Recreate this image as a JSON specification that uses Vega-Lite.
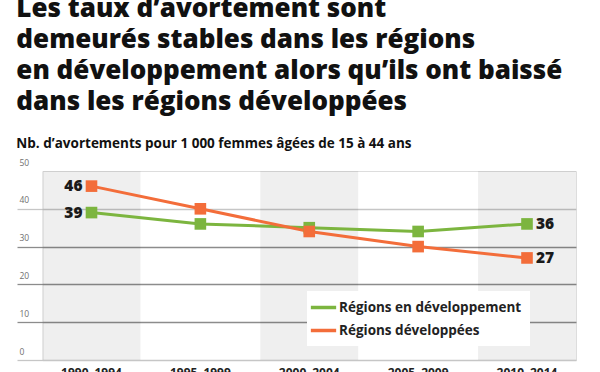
{
  "$schema": "https://vega.github.io/schema/vega-lite/v6.json",
  "autosize": "none",
  "width": 533.5,
  "height": 189,
  "padding": {"left": 42.5, "top": 171, "right": 24, "bottom": 12},
  "background": "white",
  "title": {
    "text": ["Les taux d’avortement sont", "demeurés stables dans les régions", "en développement alors qu’ils ont baissé", "dans les régions développées"],
    "subtitle": "Nb. d’avortements pour 1 000 femmes âgées de 15 à 44 ans",
    "anchor": "start",
    "frame": "bounds",
    "orient": "top",
    "font": "Open Sans",
    "fontSize": 26,
    "fontWeight": 800,
    "lineHeight": 31,
    "color": "#111111",
    "subtitleFont": "Open Sans",
    "subtitleFontSize": 13.5,
    "subtitleFontWeight": 700,
    "subtitleColor": "#111111",
    "subtitlePadding": 22,
    "offset": 8
  },
  "datasets": {
    "rates": [
      {"period": "1990–1994", "series": "Régions en développement", "value": 39},
      {"period": "1995–1999", "series": "Régions en développement", "value": 36},
      {"period": "2000–2004", "series": "Régions en développement", "value": 35},
      {"period": "2005–2009", "series": "Régions en développement", "value": 34},
      {"period": "2010–2014", "series": "Régions en développement", "value": 36},
      {"period": "1990–1994", "series": "Régions développées", "value": 46},
      {"period": "1995–1999", "series": "Régions développées", "value": 40},
      {"period": "2000–2004", "series": "Régions développées", "value": 34},
      {"period": "2005–2009", "series": "Régions développées", "value": 30},
      {"period": "2010–2014", "series": "Régions développées", "value": 27}
    ],
    "bands": [
      {"period": "1990–1994"},
      {"period": "2000–2004"},
      {"period": "2010–2014"}
    ]
  },
  "encoding": {
    "x": {
      "field": "period",
      "type": "nominal",
      "sort": null,
      "scale": {
        "domain": ["1990–1994", "1995–1999", "2000–2004", "2005–2009", "2010–2014"],
        "paddingInner": 0.1,
        "paddingOuter": 0
      },
      "axis": {
        "title": null,
        "domain": false,
        "ticks": false,
        "labelAngle": 0,
        "labelFont": "Open Sans",
        "labelFontSize": 12,
        "labelFontWeight": 700,
        "labelColor": "#222222",
        "labelPadding": 7,
        "labelBaseline": "top"
      }
    }
  },
  "layer": [
    {
      "data": {"name": "bands"},
      "mark": {"type": "rect", "color": "#000000", "opacity": 0.062},
      "encoding": {
        "y": {
          "datum": 50,
          "type": "quantitative",
          "scale": {"domain": [0, 50], "nice": false},
          "axis": {
            "title": null,
            "values": [0, 10, 20, 30, 40, 50],
            "domain": false,
            "grid": true,
            "tickSize": 25.5,
            "gridColor": {"condition": {"test": "datum.value >= 10 && datum.value <= 30", "value": "#8c8c8c"}, "value": "#c6c6c6"},
            "tickColor": {"condition": {"test": "datum.value >= 10 && datum.value <= 30", "value": "#8c8c8c"}, "value": "#c6c6c6"},
            "gridOpacity": {"condition": {"test": "datum.value == 50", "value": 0}, "value": 1},
            "tickOpacity": {"condition": {"test": "datum.value == 50", "value": 0}, "value": 1},
            "gridWidth": 1.3,
            "tickWidth": 1.3,
            "labelAlign": "left",
            "labelBaseline": "bottom",
            "labelPadding": -2,
            "labelOffset": -4,
            "labelFont": "Open Sans",
            "labelFontSize": 8.5,
            "labelColor": "#707070",
            "labelFlush": false,
            "labelOverlap": false,
            "labelBound": false
          }
        },
        "y2": {"datum": 0}
      }
    },
    {
      "data": {"name": "rates"},
      "mark": {"type": "line", "strokeWidth": 3},
      "encoding": {
        "y": {
          "field": "value",
          "type": "quantitative",
          "axis": {
            "title": null,
            "values": [0, 10, 20, 30, 40, 50],
            "domain": false,
            "grid": true,
            "tickSize": 25.5,
            "gridColor": {"condition": {"test": "datum.value >= 10 && datum.value <= 30", "value": "#8c8c8c"}, "value": "#c6c6c6"},
            "tickColor": {"condition": {"test": "datum.value >= 10 && datum.value <= 30", "value": "#8c8c8c"}, "value": "#c6c6c6"},
            "gridOpacity": {"condition": {"test": "datum.value == 50", "value": 0}, "value": 1},
            "tickOpacity": {"condition": {"test": "datum.value == 50", "value": 0}, "value": 1},
            "gridWidth": 1.3,
            "tickWidth": 1.3,
            "labelAlign": "left",
            "labelBaseline": "bottom",
            "labelPadding": -2,
            "labelOffset": -4,
            "labelFont": "Open Sans",
            "labelFontSize": 8.5,
            "labelColor": "#707070",
            "labelFlush": false,
            "labelOverlap": false,
            "labelBound": false
          }
        },
        "color": {
          "field": "series",
          "type": "nominal",
          "scale": {"domain": ["Régions en développement", "Régions développées"], "range": ["#7cb53f", "#f36d3a"]},
          "legend": {
            "title": null,
            "orient": "none",
            "legendX": 264.5,
            "legendY": 120,
            "direction": "vertical",
            "symbolType": "M-2,0H2",
            "symbolStrokeWidth": 3.5,
            "symbolSize": 160,
            "fillColor": "white",
            "padding": 8,
            "rowPadding": 7,
            "labelOffset": 7,
            "labelFont": "Open Sans",
            "labelFontSize": 13.5,
            "labelFontWeight": 700,
            "labelColor": "#222222",
            "labelLimit": 300
          }
        }
      }
    },
    {
      "data": {"name": "rates"},
      "mark": {"type": "square", "size": 135, "opacity": 1},
      "encoding": {
        "y": {
          "field": "value",
          "type": "quantitative",
          "axis": {
            "title": null,
            "values": [0, 10, 20, 30, 40, 50],
            "domain": false,
            "grid": true,
            "tickSize": 25.5,
            "gridColor": {"condition": {"test": "datum.value >= 10 && datum.value <= 30", "value": "#8c8c8c"}, "value": "#c6c6c6"},
            "tickColor": {"condition": {"test": "datum.value >= 10 && datum.value <= 30", "value": "#8c8c8c"}, "value": "#c6c6c6"},
            "gridOpacity": {"condition": {"test": "datum.value == 50", "value": 0}, "value": 1},
            "tickOpacity": {"condition": {"test": "datum.value == 50", "value": 0}, "value": 1},
            "gridWidth": 1.3,
            "tickWidth": 1.3,
            "labelAlign": "left",
            "labelBaseline": "bottom",
            "labelPadding": -2,
            "labelOffset": -4,
            "labelFont": "Open Sans",
            "labelFontSize": 8.5,
            "labelColor": "#707070",
            "labelFlush": false,
            "labelOverlap": false,
            "labelBound": false
          }
        },
        "fill": {
          "field": "series",
          "type": "nominal",
          "scale": {"domain": ["Régions en développement", "Régions développées"], "range": ["#7cb53f", "#f36d3a"]},
          "legend": null
        }
      }
    },
    {
      "data": {"name": "rates"},
      "transform": [{"filter": "datum.period == '1990–1994'"}],
      "mark": {"type": "text", "align": "right", "baseline": "middle", "dx": -9, "font": "Open Sans", "fontSize": 15.5, "fontWeight": 800, "color": "#1a1a1a"},
      "encoding": {
        "y": {
          "field": "value",
          "type": "quantitative",
          "axis": {
            "title": null,
            "values": [0, 10, 20, 30, 40, 50],
            "domain": false,
            "grid": true,
            "tickSize": 25.5,
            "gridColor": {"condition": {"test": "datum.value >= 10 && datum.value <= 30", "value": "#8c8c8c"}, "value": "#c6c6c6"},
            "tickColor": {"condition": {"test": "datum.value >= 10 && datum.value <= 30", "value": "#8c8c8c"}, "value": "#c6c6c6"},
            "gridOpacity": {"condition": {"test": "datum.value == 50", "value": 0}, "value": 1},
            "tickOpacity": {"condition": {"test": "datum.value == 50", "value": 0}, "value": 1},
            "gridWidth": 1.3,
            "tickWidth": 1.3,
            "labelAlign": "left",
            "labelBaseline": "bottom",
            "labelPadding": -2,
            "labelOffset": -4,
            "labelFont": "Open Sans",
            "labelFontSize": 8.5,
            "labelColor": "#707070",
            "labelFlush": false,
            "labelOverlap": false,
            "labelBound": false
          }
        },
        "text": {"field": "value", "type": "quantitative"}
      }
    },
    {
      "data": {"name": "rates"},
      "transform": [{"filter": "datum.period == '2010–2014'"}],
      "mark": {"type": "text", "align": "left", "baseline": "middle", "dx": 9, "font": "Open Sans", "fontSize": 15.5, "fontWeight": 800, "color": "#1a1a1a"},
      "encoding": {
        "y": {
          "field": "value",
          "type": "quantitative",
          "axis": {
            "title": null,
            "values": [0, 10, 20, 30, 40, 50],
            "domain": false,
            "grid": true,
            "tickSize": 25.5,
            "gridColor": {"condition": {"test": "datum.value >= 10 && datum.value <= 30", "value": "#8c8c8c"}, "value": "#c6c6c6"},
            "tickColor": {"condition": {"test": "datum.value >= 10 && datum.value <= 30", "value": "#8c8c8c"}, "value": "#c6c6c6"},
            "gridOpacity": {"condition": {"test": "datum.value == 50", "value": 0}, "value": 1},
            "tickOpacity": {"condition": {"test": "datum.value == 50", "value": 0}, "value": 1},
            "gridWidth": 1.3,
            "tickWidth": 1.3,
            "labelAlign": "left",
            "labelBaseline": "bottom",
            "labelPadding": -2,
            "labelOffset": -4,
            "labelFont": "Open Sans",
            "labelFontSize": 8.5,
            "labelColor": "#707070",
            "labelFlush": false,
            "labelOverlap": false,
            "labelBound": false
          }
        },
        "text": {"field": "value", "type": "quantitative"}
      }
    }
  ]
}
